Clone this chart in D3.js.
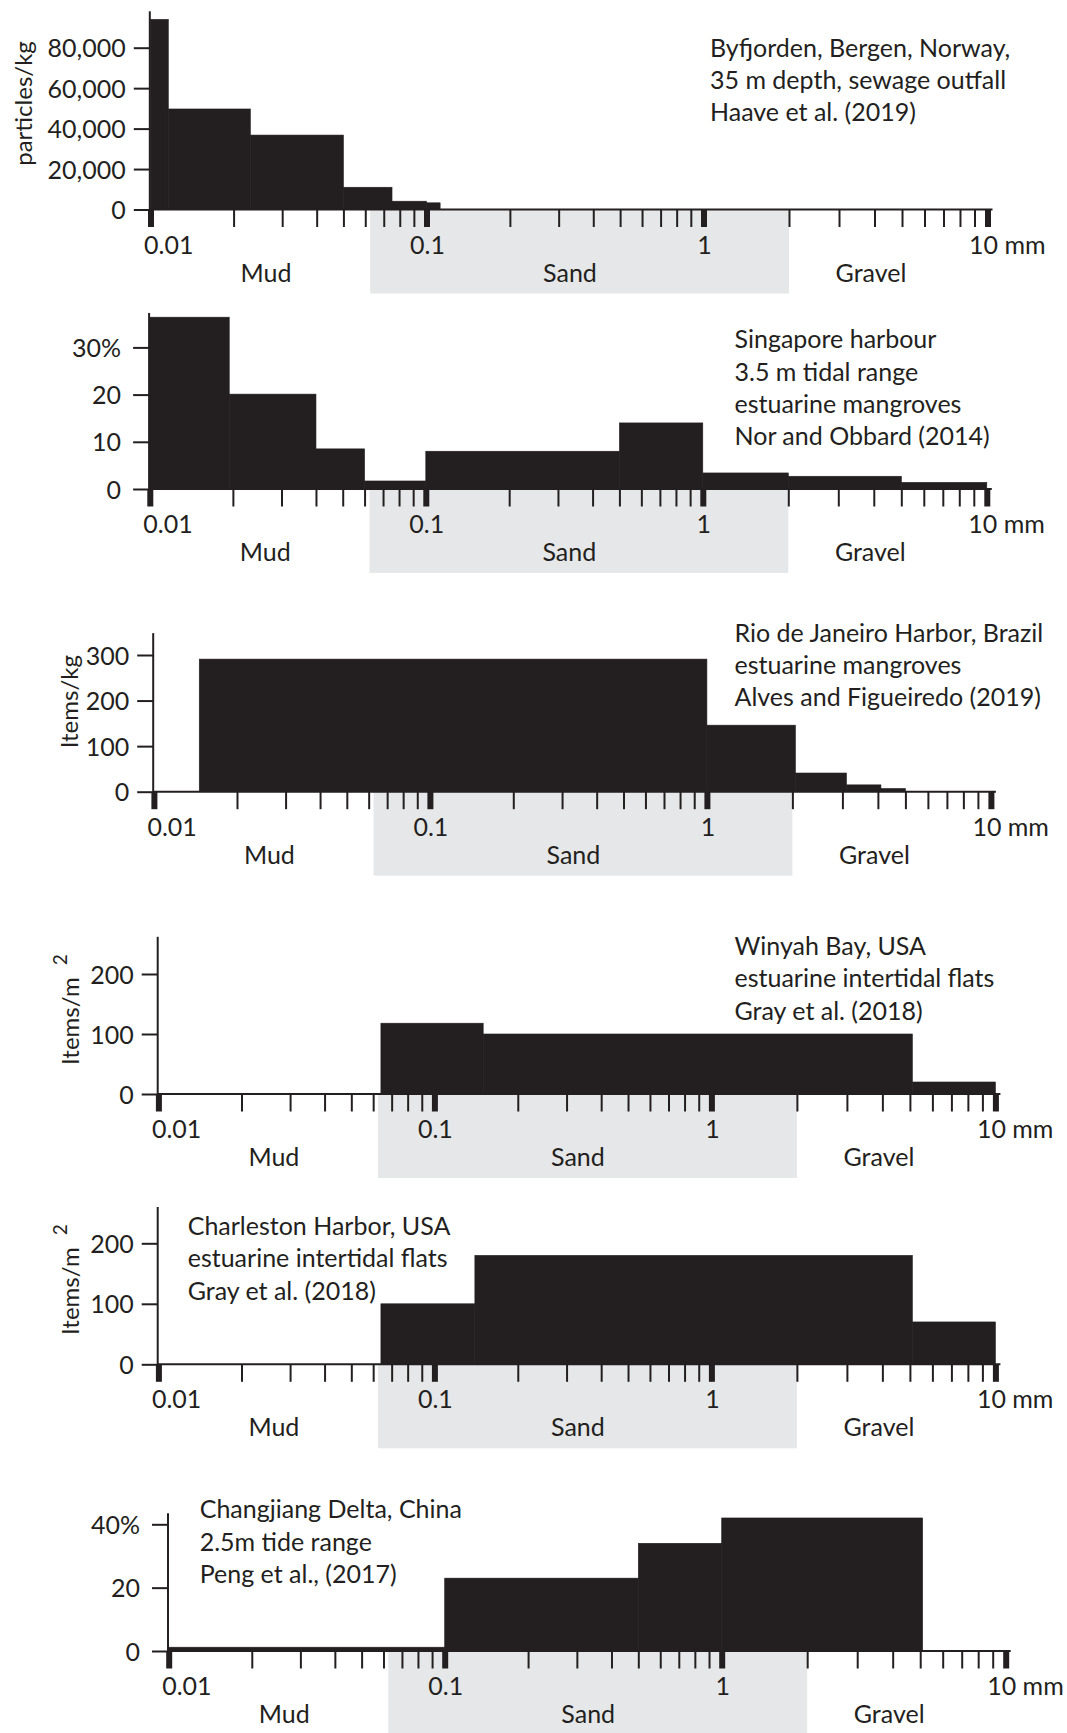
<!DOCTYPE html>
<html>
<head>
<meta charset="utf-8">
<script src="https://cdn.jsdelivr.net/npm/d3@7"></script>
<style>
  html, body { margin: 0; padding: 0; background: #ffffff; }
  svg { display: block; font-family: Lato, "Noto Sans", sans-serif; }
</style>
</head>
<body>
<svg id="chart" width="1067" height="1733"></svg>
<script>
// ---- shared grain-size axis (mm) ----
const xTickValues = [0.01, 0.1, 1, 10];
const xTickLabels = ["0.01", "0.1", "1", "10 mm"];
const sandRange = [0.0625, 2];
const classNames = ["Mud", "Sand", "Gravel"];

// ---- Byfjorden, Bergen ----
const bergenEdges = [0.01, 0.0116, 0.023, 0.05, 0.075, 0.1, 0.112];
const bergenValues = [94000, 49700, 36800, 11000, 4100, 3300];
const bergenTicks = [0, 20000, 40000, 60000, 80000];
const bergenTickLabels = ["0", "20,000", "40,000", "60,000", "80,000"];
const bergenNote = ["Byfjorden, Bergen, Norway,", "35 m depth, sewage outfall", "Haave et al. (2019)"];

// ---- Singapore harbour ----
const singaporeEdges = [0.01, 0.0194, 0.04, 0.06, 0.1, 0.5, 1, 2, 5, 10];
const singaporeValues = [36.4, 20.1, 8.5, 1.7, 8, 14, 3.4, 2.7, 1.4];
const singaporeTicks = [0, 10, 20, 30];
const singaporeTickLabels = ["0", "10", "20", "30%"];
const singaporeNote = ["Singapore harbour", "3.5 m tidal range", "estuarine mangroves", "Nor and Obbard (2014)"];

// ---- Rio de Janeiro ----
const rioEdges = [0.0146, 1, 2.05, 3.1, 4.1, 5];
const rioValues = [291, 146, 41, 15, 7];
const rioTicks = [0, 100, 200, 300];
const rioTickLabels = ["0", "100", "200", "300"];
const rioNote = ["Rio de Janeiro Harbor, Brazil", "estuarine mangroves", "Alves and Figueiredo (2019)"];

// ---- Winyah Bay ----
const winyahEdges = [0.064, 0.15, 5.1, 10];
const winyahValues = [118, 100, 20];
const winyahTicks = [0, 100, 200];
const winyahTickLabels = ["0", "100", "200"];
const winyahNote = ["Winyah Bay, USA", "estuarine intertidal flats", "Gray et al. (2018)"];

// ---- Charleston Harbor ----
const charlestonEdges = [0.064, 0.14, 5.1, 10];
const charlestonValues = [100, 180, 70];
const charlestonTicks = [0, 100, 200];
const charlestonTickLabels = ["0", "100", "200"];
const charlestonNote = ["Charleston Harbor, USA", "estuarine intertidal flats", "Gray et al. (2018)"];

// ---- Changjiang Delta ----
const changjiangEdges = [0.01, 0.1, 0.5, 1, 5.1];
const changjiangValues = [1.2, 23, 34, 42];
const changjiangTicks = [0, 20, 40];
const changjiangTickLabels = ["0", "20", "40%"];
const changjiangNote = ["Changjiang Delta, China", "2.5m tide range", "Peng et al., (2017)"];

// ---- drawing ----
const ink = "#231f20";
const sandFill = "#e6e7e8";
const fontSize = 25;
const lineGap = 32.3;
const decadeOffsets = [0, 276, 553, 837];

const panels = [
  { edges: bergenEdges, values: bergenValues, ticks: bergenTicks, tickLabels: bergenTickLabels,
    note: bergenNote, yLabel: "particles/kg", pad: 8,
    x0: 150.5, y0: 209.5, yTopTick: 47.7, axisMax: 98000, noteX: 710, noteY: 56.7, labelX: 32, labelY: 103.5 },
  { edges: singaporeEdges, values: singaporeValues, ticks: singaporeTicks, tickLabels: singaporeTickLabels,
    note: singaporeNote, yLabel: null, pad: 12,
    x0: 149.8, y0: 489, yTopTick: 347.4, axisMax: 37.3, noteX: 734.5, noteY: 348.3 },
  { edges: rioEdges, values: rioValues, ticks: rioTicks, tickLabels: rioTickLabels,
    note: rioNote, yLabel: "Items/kg", pad: 8,
    x0: 153.9, y0: 791.7, yTopTick: 655, axisMax: 348, noteX: 734.5, noteY: 641.7, labelX: 78, labelY: 701.7 },
  { edges: winyahEdges, values: winyahValues, ticks: winyahTicks, tickLabels: winyahTickLabels,
    note: winyahNote, yLabel: "Items/m", sup: "2", pad: 8,
    x0: 158.4, y0: 1094, yTopTick: 974, axisMax: 262, noteX: 734.5, noteY: 955, labelX: 79, labelY: 1065 },
  { edges: charlestonEdges, values: charlestonValues, ticks: charlestonTicks, tickLabels: charlestonTickLabels,
    note: charlestonNote, yLabel: "Items/m", sup: "2", pad: 8,
    x0: 158.4, y0: 1364.3, yTopTick: 1243.3, axisMax: 260, noteX: 187.7, noteY: 1235, labelX: 79, labelY: 1335 },
  { edges: changjiangEdges, values: changjiangValues, ticks: changjiangTicks, tickLabels: changjiangTickLabels,
    note: changjiangNote, yLabel: null, pad: 12,
    x0: 168.7, y0: 1651, yTopTick: 1524.3, axisMax: 43.5, noteX: 199.7, noteY: 1518.3 }
];

const svg = d3.select("#chart");

panels.forEach(p => {
  const x = d3.scaleLog()
    .domain(xTickValues)
    .range(decadeOffsets.map(d => p.x0 + d));
  const y = d3.scaleLinear()
    .domain([0, p.ticks[p.ticks.length - 1]])
    .range([p.y0, p.yTopTick]);
  const axisX = p.x0 - 0.7;

  const g = svg.append("g");

  // sand band under the axis
  g.append("rect")
    .attr("x", x(sandRange[0]))
    .attr("y", p.y0)
    .attr("width", x(sandRange[1]) - x(sandRange[0]))
    .attr("height", 84)
    .attr("fill", sandFill);

  // size-class bars
  const bins = p.values.map((v, i) => ({ lo: p.edges[i], hi: p.edges[i + 1], v }));
  g.selectAll("rect.bar")
    .data(bins)
    .join("rect")
    .attr("class", "bar")
    .attr("x", d => x(d.lo))
    .attr("width", d => x(d.hi) - x(d.lo))
    .attr("y", d => y(d.v))
    .attr("height", d => y(0) - y(d.v))
    .attr("fill", ink)
    .attr("stroke", ink)
    .attr("stroke-width", 0.6);

  // grain-size ticks (log), decades drawn heavy
  const xAxis = g.append("g")
    .attr("transform", `translate(0,${p.y0})`)
    .call(d3.axisBottom(x).tickValues(x.ticks()).tickSize(17.5).tickSizeOuter(0).tickFormat(""));
  xAxis.select(".domain").remove();
  xAxis.selectAll(".tick line")
    .attr("stroke", ink)
    .attr("stroke-width", d => Math.abs(Math.log10(d) - Math.round(Math.log10(d))) < 1e-9 ? 6 : 2);

  // baseline
  g.append("line")
    .attr("x1", axisX).attr("x2", x(10) + 5)
    .attr("y1", p.y0).attr("y2", p.y0)
    .attr("stroke", ink).attr("stroke-width", 2);

  // value axis
  const yAxis = g.append("g")
    .attr("transform", `translate(${axisX},0)`)
    .call(d3.axisLeft(y).tickValues(p.ticks).tickSize(16).tickSizeOuter(0).tickPadding(p.pad)
      .tickFormat((d, i) => p.tickLabels[i]));
  yAxis.select(".domain").remove();
  yAxis.selectAll(".tick line").attr("stroke", ink).attr("stroke-width", 2);
  yAxis.selectAll(".tick text")
    .attr("fill", ink)
    .attr("font-size", fontSize)
    .attr("font-family", "Lato, 'Noto Sans', sans-serif")
    .attr("dy", "0.36em");
  g.append("line")
    .attr("x1", axisX).attr("x2", axisX)
    .attr("y1", p.y0 + 1).attr("y2", y(p.axisMax))
    .attr("stroke", ink).attr("stroke-width", 2);

  // grain-size labels
  g.selectAll("text.xl")
    .data(xTickValues)
    .join("text")
    .attr("class", "xl")
    .attr("x", (d, i) => i === 0 ? x(d) - 6.5 : (i === xTickValues.length - 1 ? x(d) - 18.5 : x(d) + 1))
    .attr("y", p.y0 + 44)
    .attr("text-anchor", (d, i) => (i === 0 || i === xTickValues.length - 1) ? "start" : "middle")
    .attr("font-size", fontSize)
    .attr("fill", ink)
    .text((d, i) => xTickLabels[i]);

  // sediment class names
  const classX = [p.x0 + 115.5, p.x0 + 419.5, p.x0 + 720.5];
  g.selectAll("text.cls")
    .data(classNames)
    .join("text")
    .attr("class", "cls")
    .attr("x", (d, i) => classX[i])
    .attr("y", p.y0 + 72)
    .attr("text-anchor", "middle")
    .attr("font-size", fontSize)
    .attr("fill", ink)
    .text(d => d);

  // site annotation
  g.append("text")
    .attr("font-size", fontSize)
    .attr("fill", ink)
    .selectAll("tspan")
    .data(p.note)
    .join("tspan")
    .attr("x", p.noteX)
    .attr("y", (d, i) => p.noteY + i * lineGap)
    .text(d => d);

  // unit label
  if (p.yLabel) {
    const t = g.append("text")
      .attr("transform", `translate(${p.labelX},${p.labelY}) rotate(-90)`)
      .attr("text-anchor", p.sup ? "start" : "middle")
      .attr("font-size", 24)
      .attr("fill", ink);
    t.append("tspan").text(p.yLabel);
    if (p.sup) {
      t.append("tspan").attr("dx", 12).attr("dy", -12).attr("font-size", 19).text(p.sup);
    }
  }
});
</script>
</body>
</html>
